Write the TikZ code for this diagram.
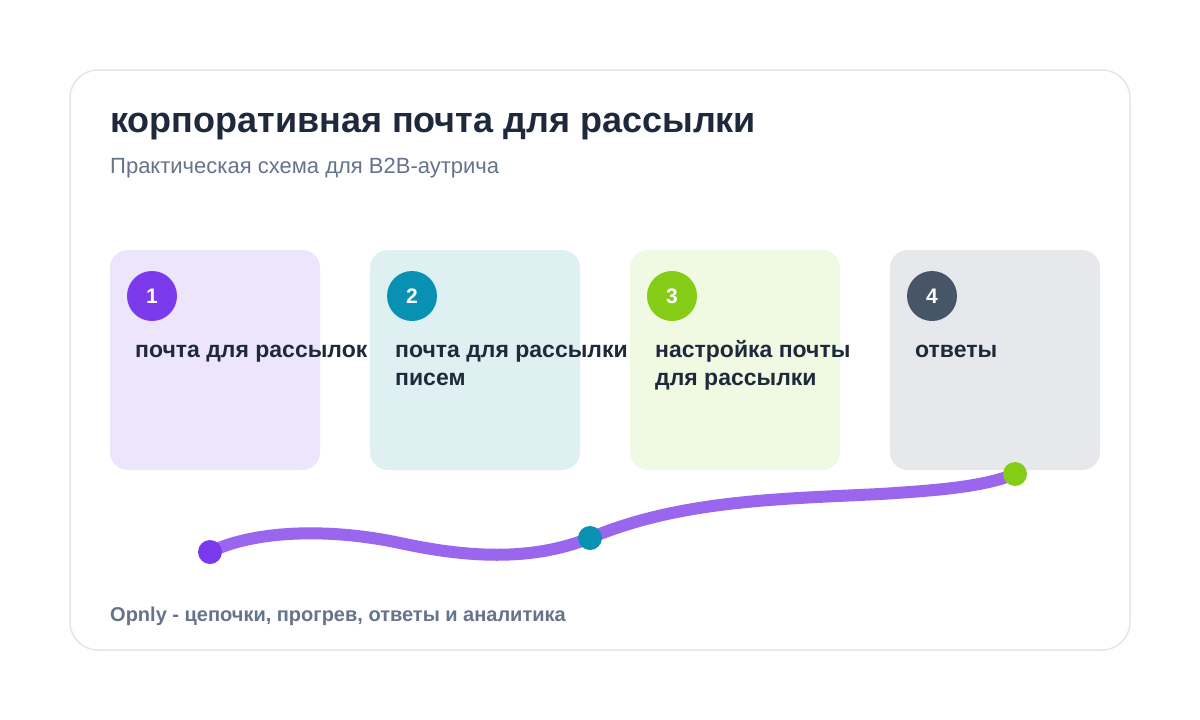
\documentclass[tikz,border=0pt]{standalone}
\usepackage{fontspec}
\setmainfont{Liberation Sans}
\definecolor{cardborder}{HTML}{E3E5E8}
\definecolor{titlec}{HTML}{1E293B}
\definecolor{subc}{HTML}{64748B}
\definecolor{bgA}{HTML}{EDE5FB}
\definecolor{bgB}{HTML}{DFF0F3}
\definecolor{bgC}{HTML}{F0F9E1}
\definecolor{bgD}{HTML}{E6E8EC}
\definecolor{cA}{HTML}{7C3AED}
\definecolor{cB}{HTML}{0891B2}
\definecolor{cC}{HTML}{84CC16}
\definecolor{cD}{HTML}{475569}
\definecolor{curvec}{HTML}{9B66EE}
\newcommand{\steptext}[1]{\begin{tabular}[t]{@{}l@{}}#1\end{tabular}}
\tikzset{
  stepcard/.style={draw=none, rounded corners=18pt, minimum width=210pt, minimum height=220pt, inner sep=0pt},
  numdot/.style={circle, minimum size=50pt, inner sep=0pt, text=white, font=\fontsize{21}{24}\selectfont\bfseries},
  steplabel/.style={anchor=base west, inner sep=0pt, text=titlec, font=\fontsize{23}{28}\selectfont\bfseries},
  pathdot/.style={circle, minimum size=24pt, inner sep=0pt},
}
\begin{document}
\begin{tikzpicture}[x=1pt,y=-1pt]
\useasboundingbox (0,0) rectangle (1200,720);
\fill[white] (0,0) rectangle (1200,720);
\draw[cardborder, line width=1.5pt, fill=white, rounded corners=28pt] (70,70) rectangle (1130,650);
\node[anchor=base west, inner sep=0pt, text=titlec, font=\fontsize{36}{40}\selectfont\bfseries] (title) at (110,132) {корпоративная почта для рассылки};
\node[anchor=base west, inner sep=0pt, text=subc, font=\fontsize{22}{26}\selectfont] (subtitle) at (110,173) {Практическая схема для B2B-аутрича};
% cards
\node[stepcard, fill=bgA] (card1) at (215,360) {};
\node[stepcard, fill=bgB] (card2) at (475,360) {};
\node[stepcard, fill=bgC] (card3) at (735,360) {};
\node[stepcard, fill=bgD] (card4) at (995,360) {};
\node[numdot, fill=cA] (n1) at (152,296) {1};
\node[numdot, fill=cB] (n2) at (412,296) {2};
\node[numdot, fill=cC] (n3) at (672,296) {3};
\node[numdot, fill=cD] (n4) at (932,296) {4};
\node[steplabel] (l1) at (135,357) {\steptext{почта для рассылок}};
\node[steplabel] (l2) at (395,357) {\steptext{почта для рассылки\\писем}};
\node[steplabel] (l3) at (655,357) {\steptext{настройка почты\\для рассылки}};
\node[steplabel] (l4) at (915,357) {\steptext{ответы}};
% curve
\coordinate (p1) at (210,552);
\coordinate (p2) at (590,538);
\coordinate (p3) at (1015,474);
\draw[curvec, line width=12pt] (p1) .. controls (255,530) and (330,528) .. (400,543) .. controls (465,557) and (530,562) .. (p2) .. controls (680,500) and (780,499) .. (880,494) .. controls (945,490) and (985,486) .. (p3);
\node[pathdot, fill=cA] (d1) at (p1) {};
\node[pathdot, fill=cB] (d2) at (p2) {};
\node[pathdot, fill=cC] (d3) at (p3) {};
\node[anchor=base west, inner sep=0pt, text=subc, font=\fontsize{20}{24}\selectfont\bfseries] (footer) at (110,621) {Opnly - цепочки, прогрев, ответы и аналитика};
\end{tikzpicture}
\end{document}
